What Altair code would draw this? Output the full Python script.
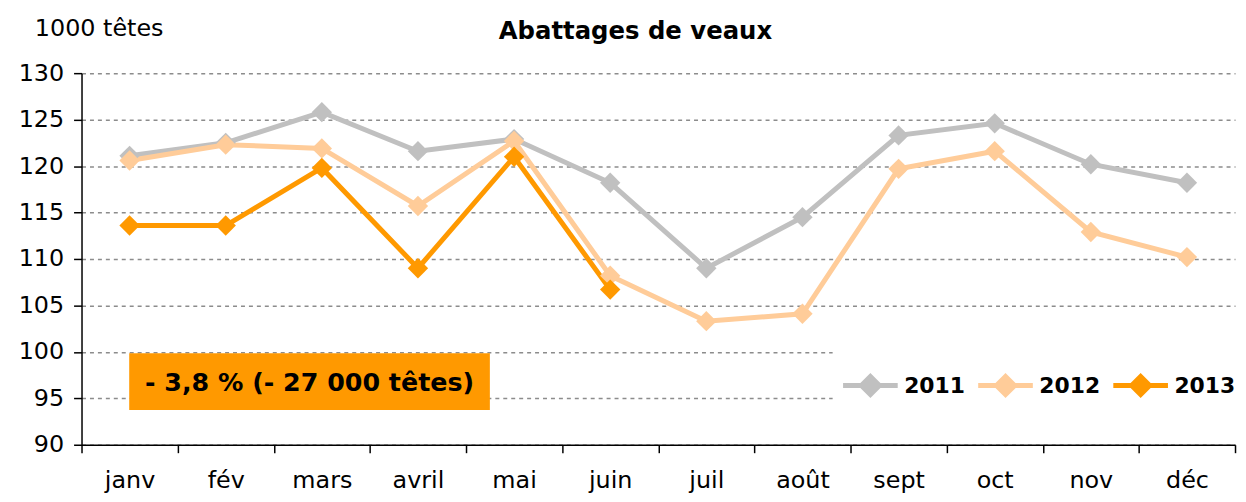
import json
import altair as alt
import pandas as pd

months = ["janv", "fév", "mars", "avril", "mai", "juin", "juil", "août", "sept", "oct", "nov", "déc"]
v2011 = [121.1, 122.5, 125.8, 121.6, 122.9, 118.2, 109.0, 114.5, 123.3, 124.6, 120.2, 118.2]
v2012 = [120.6, 122.3, 121.9, 115.7, 122.7, 108.2, 103.3, 104.1, 119.7, 121.6, 112.9, 110.2]
v2013 = [113.6, 113.6, 119.8, 109.0, 121.0, 106.7]
years = ["2011", "2012", "2013"]
colors = ["#C0C0C0", "#FFCC99", "#FF9900"]
y_ticks = [90, 95, 100, 105, 110, 115, 120, 125, 130]
title_text = "Abattages de veaux"
unit_text = "1000 têtes"
note_text = "- 3,8 % (- 27 000 têtes)"

rows = []
for yr, vals in zip(years, [v2011, v2012, v2013]):
    for i, v in enumerate(vals):
        rows.append({"mois": months[i], "pos": i + 0.5, "annee": yr, "valeur": v})
df = pd.DataFrame(rows)

FONT = "DejaVu Sans"

xscale = alt.Scale(domain=[0, 12], nice=False, zero=False)
yscale = alt.Scale(domain=[90, 130], nice=False, zero=False)

yaxis = alt.Axis(
    values=y_ticks, title=None, labelFont=FONT, labelFontSize=24, labelColor="black",
    labelPadding=10, tickSize=8, tickColor="black", tickWidth=1.5,
    domainColor="black", domainWidth=1.5,
    grid=True, gridDash=[4, 4], gridColor="#8C8C8C", gridWidth=1.5,
)

label_expr = json.dumps(months) + "[floor(datum.value)]"
xaxis_labels = alt.Axis(
    orient="bottom", values=[i + 0.5 for i in range(12)], labelExpr=label_expr,
    title=None, ticks=False, grid=False, domain=True, domainColor="black", domainWidth=1.5,
    labelFont=FONT, labelFontSize=24, labelColor="black", labelPadding=24,
)
xaxis_ticks = alt.Axis(
    orient="bottom", values=list(range(13)), title=None, labels=False, grid=False,
    domain=False, ticks=True, tickSize=8, tickColor="black", tickWidth=1.5,
)

sym_path = ("M-1,0L1,0M0,-0.33L0.33,0L0,0.33L-0.33,0ZM0,-0.16L0.16,0L0,0.16L-0.16,0Z")

legend = alt.Legend(
    title=None, orient="none", legendX=756, legendY=276, direction="horizontal",
    symbolType=sym_path, symbolSize=3025, symbolStrokeWidth=5,
    labelFont=FONT, labelFontSize=22, labelFontWeight="bold", labelColor="black",
    labelOffset=4, columnPadding=2, fillColor="white", padding=8,
)

base = alt.Chart(df)

lines = base.mark_line(strokeWidth=5).encode(
    x=alt.X("pos:Q", scale=xscale, axis=xaxis_labels),
    y=alt.Y("valeur:Q", scale=yscale, axis=yaxis),
    color=alt.Color("annee:N", scale=alt.Scale(domain=years, range=colors), legend=legend),
)

points = base.mark_point(filled=True, shape="diamond", size=420, opacity=1).encode(
    x=alt.X("pos:Q", scale=xscale, axis=xaxis_ticks),
    y=alt.Y("valeur:Q", scale=yscale, axis=yaxis),
    color=alt.Color("annee:N", scale=alt.Scale(domain=years, range=colors), legend=None),
)

note_df = pd.DataFrame({"t": [note_text]})
box = alt.Chart(note_df).mark_rect(color="#FF9900").encode(
    x=alt.value(48), x2=alt.value(411), y=alt.value(282), y2=alt.value(339)
)
note = alt.Chart(note_df).mark_text(
    font=FONT, fontSize=25.5, fontWeight="bold", color="black", align="center", baseline="middle"
).encode(x=alt.value(229.5), y=alt.value(312), text="t:N")

title = alt.Chart(pd.DataFrame({"t": [title_text]})).mark_text(
    font=FONT, fontSize=24.5, fontWeight="bold", color="black", align="center", baseline="alphabetic"
).encode(x=alt.value(557.5), y=alt.value(-34), text="t:N")

unit = alt.Chart(pd.DataFrame({"t": [unit_text]})).mark_text(
    font=FONT, fontSize=24, color="black", align="left", baseline="alphabetic"
).encode(x=alt.value(-47), y=alt.value(-37), text="t:N")

chart = alt.layer(lines, points, box, note, title, unit).resolve_axis(
    x="independent"
).properties(
    width=1161, height=374,
    autosize=alt.AutoSizeParams(type="none"),
    padding={"left": 74, "top": 64, "right": 3, "bottom": 48},
    background="white",
).configure_view(stroke=None)

chart.save("out.html", embed_options={"renderer": "svg", "actions": False})
